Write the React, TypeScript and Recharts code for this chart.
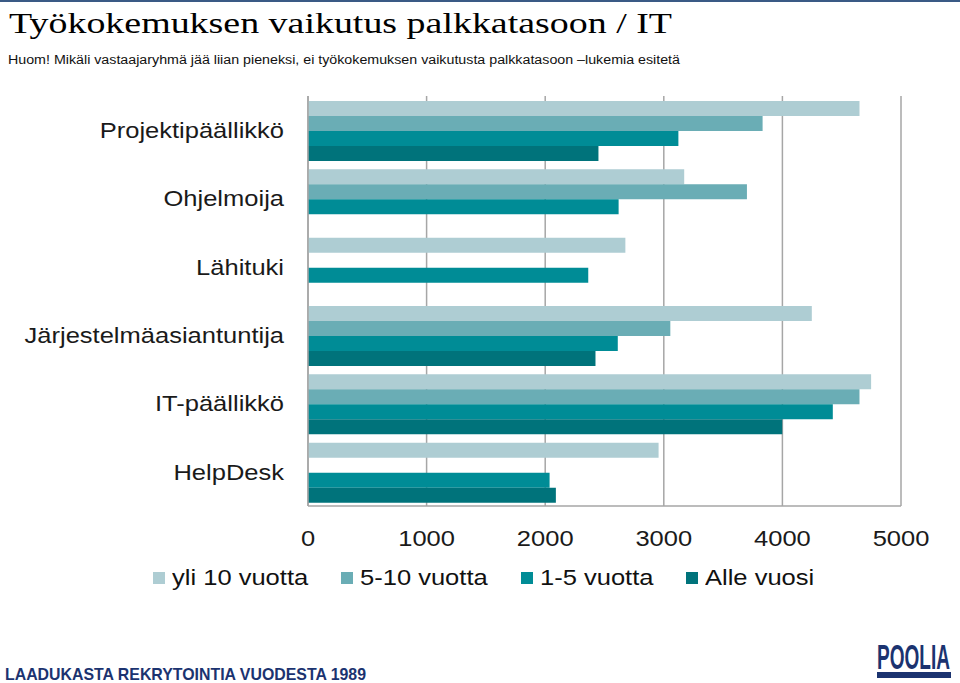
import React from "react";
import { BarChart, Bar, XAxis, YAxis, CartesianGrid, Legend } from "recharts";

const categories = ["Projektipäällikkö", "Ohjelmoija", "Lähituki", "Järjestelmäasiantuntija", "IT-päällikkö", "HelpDesk"];
const yli10 = [4650, 3172, 2676, 4248, 4748, 2956];
const v5to10: (number | null)[] = [3833, 3701, null, 3055, 4650, null];
const v1to5 = [3123, 2619, 2363, 2612, 4425, 2037];
const alle1: (number | null)[] = [2449, null, null, 2424, 3999, 2090];
const xTicks = [0, 1000, 2000, 3000, 4000, 5000];

const seriesNames = ["yli 10 vuotta", "5-10 vuotta", "1-5 vuotta", "Alle vuosi"];
const seriesColors = ["#AECDD3", "#6AADB5", "#008C96", "#00737B"];

const data = categories.map((name, i) => ({
  name,
  s0: yli10[i],
  s1: v5to10[i],
  s2: v1to5[i],
  s3: alle1[i],
}));

const FONT = "'Liberation Sans', Arial, sans-serif";
const SX = 1.16;

const YTick = (props: any) => {
  const { x, y, payload } = props;
  return (
    <g transform={`translate(${x},${y})`}>
      <text transform={`scale(${SX},1)`} textAnchor="end" dy="0.36em" fontSize={22} fontFamily={FONT} fill="#1a1a1a">
        {payload.value}
      </text>
    </g>
  );
};

const XTick = (props: any) => {
  const { x, y, payload } = props;
  return (
    <g transform={`translate(${x},${y})`}>
      <text transform={`scale(${SX},1)`} textAnchor="middle" dy="0.71em" fontSize={22} fontFamily={FONT} fill="#1a1a1a">
        {payload.value}
      </text>
    </g>
  );
};

const itemWidths = [188, 180, 165, 140];

const LegendContent = (props: any) => {
  const payload = [...(props.payload || [])].sort(
    (a: any, b: any) => seriesNames.indexOf(a.value) - seriesNames.indexOf(b.value)
  );
  return (
    <div style={{ display: "flex", alignItems: "center", height: 22 }}>
      {payload.map((p: any, i: number) => (
        <div key={i} style={{ display: "flex", alignItems: "center", width: itemWidths[i] }}>
          <span style={{ display: "inline-block", width: 12, height: 12, background: p.color, marginRight: 7 }} />
          <span
            style={{
              display: "inline-block",
              fontFamily: FONT,
              fontSize: 22,
              lineHeight: "22px",
              color: "#111",
              transform: `scaleX(${SX})`,
              transformOrigin: "left center",
              whiteSpace: "nowrap",
            }}
          >
            {p.value}
          </span>
        </div>
      ))}
    </div>
  );
};

export default function App() {
  return (
    <div style={{ position: "absolute", left: 0, top: 0, width: 960, height: 683, background: "#fff", overflow: "hidden" }}>
      <BarChart
        width={960}
        height={683}
        data={data}
        layout="vertical"
        margin={{ top: 96, right: 59, left: 0, bottom: 117 }}
        barCategoryGap="7.3%"
        barGap={0}
      >
        <CartesianGrid horizontal={false} vertical={true} stroke="#A6A6A6" strokeWidth={1.5} />
        <XAxis
          type="number"
          domain={[0, 5000]}
          ticks={xTicks}
          interval={0}
          height={60}
          tickLine={false}
          tickSize={0}
          tickMargin={24}
          axisLine={{ stroke: "#A6A6A6", strokeWidth: 1.5 }}
          tick={<XTick />}
        />
        <YAxis
          type="category"
          dataKey="name"
          width={308}
          tickLine={false}
          tickSize={0}
          tickMargin={24}
          interval={0}
          axisLine={{ stroke: "#A6A6A6", strokeWidth: 1.5 }}
          tick={<YTick />}
        />
        <Legend
          layout="horizontal"
          verticalAlign="middle"
          align="center"
          content={<LegendContent />}
          wrapperStyle={{ position: "absolute", top: 567, left: 153, width: 700, height: 22 }}
        />
        {seriesNames.map((n, i) => (
          <Bar key={n} dataKey={`s${i}`} name={n} fill={seriesColors[i]} isAnimationActive={false} />
        ))}
      </BarChart>
      <svg width={960} height={683} style={{ position: "absolute", left: 0, top: 0, pointerEvents: "none" }}>
        <rect x={0} y={0} width={960} height={2} fill="#3A5A85" />
        <text x={9} y={33} fontFamily="'Liberation Serif', 'Times New Roman', serif" fontSize={30} fill="#000" textLength={663} lengthAdjust="spacingAndGlyphs">
          Työkokemuksen vaikutus palkkatasoon / IT
        </text>
        <text x={8} y={64} fontFamily={FONT} fontSize={12} fill="#111" textLength={672} lengthAdjust="spacingAndGlyphs">
          Huom! Mikäli vastaajaryhmä jää liian pieneksi, ei työkokemuksen vaikutusta palkkatasoon –lukemia esitetä
        </text>
        <text x={5} y={680} fontFamily="'Liberation Sans Narrow', 'Liberation Sans', Arial, sans-serif" fontWeight="bold" fontSize={17} fill="#1B3370" textLength={361} lengthAdjust="spacingAndGlyphs">
          LAADUKASTA REKRYTOINTIA VUODESTA 1989
        </text>
        <g transform="translate(877,669) scale(1,1.6)">
          <text x={0} y={0} fontFamily="'Liberation Sans Narrow', 'Liberation Sans', Arial, sans-serif" fontWeight="bold" fontSize={22} fill="#1B3370" textLength={73} lengthAdjust="spacingAndGlyphs">
            POOLIA
          </text>
        </g>
        <rect x={877} y={672} width={74} height={6} fill="#1B3370" />
      </svg>
    </div>
  );
}
